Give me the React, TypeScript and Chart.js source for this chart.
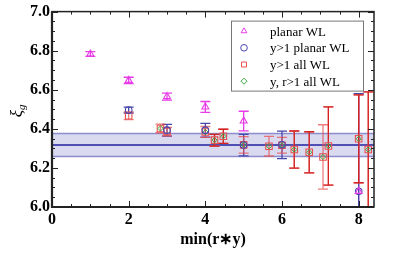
import React, { useEffect, useRef } from "react";
import { Chart, registerables } from "chart.js";
Chart.register(...registerables);

// ---- data ----
const planarX = [1, 2, 3, 4, 5, 8];
const planarY = [6.783, 6.648, 6.565, 6.512, 6.44, 6.08];
const planarErr = [0.012, 0.016, 0.018, 0.028, 0.05, 0.5];

const y1PlanarX = [2, 3, 4, 5, 6, 8];
const y1PlanarY = [6.496, 6.393, 6.393, 6.317, 6.318, 6.08];
const y1PlanarErr = [0.015, 0.03, 0.035, 0.055, 0.07, 0.5];

const y1AllX = [2, 2.83, 3, 4, 4.24, 4.47, 5, 5.66, 6, 6.32, 6.71, 7.07, 7.21, 8, 8.25];
const y1AllY = [6.467, 6.402, 6.386, 6.384, 6.342, 6.362, 6.318, 6.311, 6.316, 6.294, 6.28, 6.256, 6.312, 6.349, 6.294];
const y1AllErr = [0.02, 0.022, 0.022, 0.028, 0.03, 0.036, 0.042, 0.05, 0.04, 0.095, 0.105, 0.165, 0.2, 0.225, 0.295];

const yrAllX = [2.83, 4, 4.24, 4.47, 5, 5.66, 6, 6.32, 6.71, 7.07, 7.21, 8, 8.25];
const yrAllY = [6.402, 6.384, 6.342, 6.362, 6.318, 6.311, 6.316, 6.294, 6.28, 6.256, 6.312, 6.349, 6.294];
const yrAllErr = [0, 0, 0.03, 0.036, 0, 0, 0, 0.095, 0.105, 0, 0.2, 0.225, 0.295];

const bandCenter = 6.317;
const bandHalf = 0.059;

const xTickValues = [0, 2, 4, 6, 8];
const yTickValues = [6.0, 6.2, 6.4, 6.6, 6.8, 7.0];

const legendLabels = ["planar WL", "y>1 planar WL", "y>1 all WL", "y, r>1 all WL"];

const SERIF = "'Liberation Serif', 'Times New Roman', serif";

const colMagenta = "rgb(232,60,232)";
const colBlue = "rgb(70,70,175)";
const colRed = "rgb(232,80,80)";
const colGreen = "rgb(60,165,60)";

const toPts = (xs: number[], ys: number[]) => xs.map((x, i) => ({ x, y: ys[i] }));

function drawMarker(ctx: CanvasRenderingContext2D, style: string, x: number, y: number, r: number) {
  ctx.beginPath();
  if (style === "triangle") {
    ctx.moveTo(x, y - r);
    ctx.lineTo(x + r * 0.87, y + r * 0.5);
    ctx.lineTo(x - r * 0.87, y + r * 0.5);
    ctx.closePath();
  } else if (style === "circle") {
    ctx.arc(x, y, r, 0, Math.PI * 2);
  } else if (style === "rect") {
    const s = r * 0.75;
    ctx.rect(x - s, y - s, 2 * s, 2 * s);
  } else {
    ctx.moveTo(x, y - r);
    ctx.lineTo(x + r, y);
    ctx.lineTo(x, y + r);
    ctx.lineTo(x - r, y);
    ctx.closePath();
  }
  ctx.stroke();
}

const errorBarPlugin = {
  id: "errorBars",
  beforeDatasetsDraw(chart: any) {
    const { ctx, chartArea, scales } = chart;
    const xs = scales.x, ys = scales.y;
    ctx.save();
    ctx.beginPath();
    ctx.rect(chartArea.left, chartArea.top, chartArea.right - chartArea.left, chartArea.bottom - chartArea.top);
    ctx.clip();
    // band
    const yt = ys.getPixelForValue(bandCenter + bandHalf);
    const yb = ys.getPixelForValue(bandCenter - bandHalf);
    const yc = ys.getPixelForValue(bandCenter);
    ctx.fillStyle = "rgba(120,120,200,0.28)";
    ctx.fillRect(chartArea.left, yt, chartArea.right - chartArea.left, yb - yt);
    ctx.strokeStyle = "rgba(110,110,190,0.75)";
    ctx.lineWidth = 1.5;
    ctx.beginPath();
    ctx.moveTo(chartArea.left, yt); ctx.lineTo(chartArea.right, yt);
    ctx.moveTo(chartArea.left, yb); ctx.lineTo(chartArea.right, yb);
    ctx.stroke();
    ctx.strokeStyle = "rgb(35,35,160)";
    ctx.lineWidth = 1.5;
    ctx.beginPath();
    ctx.moveTo(chartArea.left, yc); ctx.lineTo(chartArea.right, yc);
    ctx.stroke();

    // error bars in dataset order
    chart.data.datasets.forEach((d: any) => {
      const errs: number[] = d.errors || [];
      ctx.strokeStyle = d.errColor;
      ctx.lineWidth = 1.3;
      d.data.forEach((p: any, k: number) => {
        const e = errs[k];
        if (!e) return;
        const px = xs.getPixelForValue(p.x);
        const p1 = ys.getPixelForValue(p.y + e);
        const p2 = ys.getPixelForValue(p.y - e);
        ctx.beginPath();
        ctx.moveTo(px, p1); ctx.lineTo(px, p2);
        ctx.moveTo(px - 5, p1); ctx.lineTo(px + 5, p1);
        ctx.moveTo(px - 5, p2); ctx.lineTo(px + 5, p2);
        ctx.stroke();
      });
    });
    ctx.restore();
  },
  afterDraw(chart: any) {
    const { ctx, chartArea, scales } = chart;
    const { left, right, top, bottom } = chartArea;
    const xs = scales.x, ys = scales.y;
    ctx.save();
    ctx.strokeStyle = "#222";
    // ticks
    ctx.lineWidth = 1;
    ctx.beginPath();
    for (let v = 0; v <= 8.4 + 1e-9; v += 0.5) {
      const px = Math.round(xs.getPixelForValue(v)) + 0.5;
      const major = Math.abs(v / 2 - Math.round(v / 2)) < 1e-6;
      const len = major ? 6 : 3;
      ctx.moveTo(px, bottom); ctx.lineTo(px, bottom - len);
      ctx.moveTo(px, top); ctx.lineTo(px, top + len);
    }
    for (let k = 0; k <= 20; k++) {
      const v = 6 + k * 0.05;
      const py = Math.round(ys.getPixelForValue(v)) + 0.5;
      const major = k % 4 === 0;
      const len = major ? 6 : 3;
      ctx.moveTo(left, py); ctx.lineTo(left + len, py);
      ctx.moveTo(right, py); ctx.lineTo(right - len, py);
    }
    ctx.stroke();
    // frame
    ctx.lineWidth = 1.5;
    ctx.strokeRect(left, top, right - left, bottom - top);
    ctx.lineWidth = 2.2;
    ctx.beginPath();
    ctx.moveTo(left, top); ctx.lineTo(left, bottom); ctx.lineTo(right, bottom);
    ctx.stroke();

    // y label
    ctx.save();
    ctx.translate(18, (top + bottom) / 2 + 2);
    ctx.rotate(-Math.PI / 2);
    ctx.fillStyle = "#000";
    ctx.font = `italic 17px ${SERIF}`;
    ctx.textBaseline = "alphabetic";
    ctx.textAlign = "left";
    const w1 = ctx.measureText("ξ").width;
    ctx.fillText("ξ", -6, 4);
    ctx.font = `italic 11px ${SERIF}`;
    ctx.fillText("g", -6 + w1, 7);
    ctx.restore();

    // legend
    const lx = left + 179, ly = top + 9, lw = 132, lh = 70;
    ctx.fillStyle = "#fff";
    ctx.fillRect(lx, ly, lw, lh);
    ctx.strokeStyle = "#777";
    ctx.lineWidth = 1;
    ctx.strokeRect(lx + 0.5, ly + 0.5, lw, lh);
    const ds = chart.data.datasets;
    ctx.font = `13px ${SERIF}`;
    ctx.textBaseline = "middle";
    ctx.textAlign = "left";
    legendLabels.forEach((lab, i) => {
      const cy = ly + 10.5 + i * 16.7;
      const d = ds[i];
      ctx.save();
      ctx.lineWidth = 1;
      ctx.strokeStyle = d.borderColor;
      drawMarker(ctx, d.pointStyle, lx + 13, cy, d.pointStyle === "rectRot" ? 3 : 3.3);
      ctx.restore();
      ctx.fillStyle = "#000";
      ctx.fillText(lab, lx + 39, cy + 1);
    });
    ctx.restore();
  },
};

export default function App() {
  const ref = useRef<HTMLCanvasElement | null>(null);
  useEffect(() => {
    if (!ref.current) return;
    const chart = new Chart(ref.current, {
      type: "scatter",
      data: {
        datasets: [
          {
            label: legendLabels[0],
            data: toPts(planarX, planarY),
            errors: planarErr,
            errColor: colMagenta,
            borderColor: colMagenta,
            backgroundColor: "rgba(0,0,0,0)",
            pointStyle: "triangle",
            pointRadius: 4,
            borderWidth: 1.1,
            order: 0,
          } as any,
          {
            label: legendLabels[1],
            data: toPts(y1PlanarX, y1PlanarY),
            errors: y1PlanarErr,
            errColor: colBlue,
            borderColor: colBlue,
            backgroundColor: "rgba(0,0,0,0)",
            pointStyle: "circle",
            pointRadius: 3.3,
            borderWidth: 1.1,
            order: 1,
          } as any,
          {
            label: legendLabels[2],
            data: toPts(y1AllX, y1AllY),
            errors: y1AllErr,
            errColor: "rgba(232,80,80,0.75)",
            borderColor: colRed,
            backgroundColor: "rgba(0,0,0,0)",
            pointStyle: "rect",
            pointRadius: 4.6,
            borderWidth: 1.1,
            order: 3,
          } as any,
          {
            label: legendLabels[3],
            data: toPts(yrAllX, yrAllY),
            errors: yrAllErr,
            errColor: "rgb(212,35,35)",
            borderColor: colGreen,
            backgroundColor: "rgba(0,0,0,0)",
            pointStyle: "rectRot",
            pointRadius: 2.6,
            borderWidth: 1,
            order: 2,
          } as any,
        ],
      },
      options: {
        animation: false,
        responsive: false,
        maintainAspectRatio: false,
        layout: { padding: { top: 10, right: 33, left: 0, bottom: 0 } },
        plugins: { legend: { display: false }, tooltip: { enabled: false } },
        scales: {
          x: {
            type: "linear",
            min: 0,
            max: 8.4,
            afterBuildTicks: (s: any) => { s.ticks = xTickValues.map((v) => ({ value: v })); },
            afterFit: (s: any) => { s.height = 48; },
            grid: { display: false, drawTicks: false },
            border: { display: false },
            ticks: {
              padding: 3,
              color: "#000",
              font: { family: SERIF, weight: "bold", size: 16 },
              callback: (v: any) => String(v),
            },
            title: {
              display: true,
              text: "min(r∗y)",
              color: "#000",
              font: { family: SERIF, weight: "bold", size: 16 },
              padding: { top: 0, bottom: 6 },
            },
          },
          y: {
            type: "linear",
            min: 6.0,
            max: 7.0,
            afterBuildTicks: (s: any) => { s.ticks = yTickValues.map((v) => ({ value: v })); },
            afterFit: (s: any) => { s.width = 52; },
            grid: { display: false, drawTicks: false },
            border: { display: false },
            ticks: {
              padding: 2,
              color: "#000",
              font: { family: SERIF, weight: "bold", size: 16 },
              callback: (v: any) => Number(v).toFixed(1),
            },
          },
        },
      } as any,
      plugins: [errorBarPlugin],
    });
    return () => chart.destroy();
  }, []);
  return (
    <div style={{ position: "fixed", left: 0, top: 0, width: 407, height: 255, background: "#fff" }}>
      <canvas ref={ref} width={407} height={255} style={{ width: 407, height: 255 }} />
    </div>
  );
}
